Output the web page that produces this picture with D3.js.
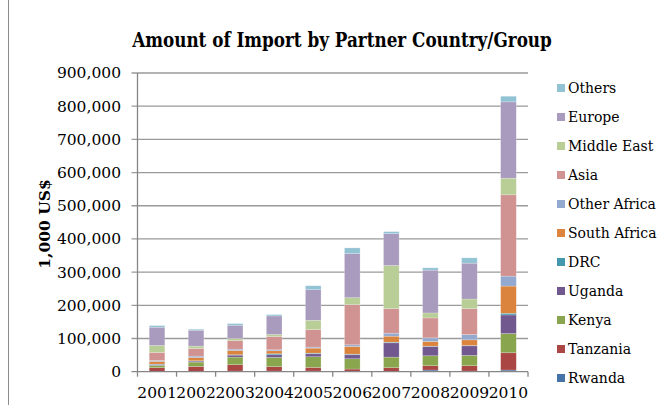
<!DOCTYPE html>
<html>
<head>
<meta charset="utf-8">
<script src="https://cdn.jsdelivr.net/npm/d3@7/dist/d3.min.js"></script>
<style>
  html, body { margin: 0; padding: 0; background: #fff; }
  svg { display: block; }
  text { font-family: "DejaVu Serif", "Liberation Serif", serif; fill: #000; }
</style>
</head>
<body>
<svg id="chart" width="662" height="405"></svg>
<script>
// Import amounts, 1,000 US$, by partner (stacked bottom to top)
const years = ["2001", "2002", "2003", "2004", "2005", "2006", "2007", "2008", "2009", "2010"];
const seriesNames = ["Rwanda", "Tanzania", "Kenya", "Uganda", "DRC", "South Africa",
                     "Other Africa", "Asia", "Middle East", "Europe", "Others"];

const rwanda      = [1000, 1000, 2000, 2000, 2000, 1000, 1000, 5000, 2000, 5000];
const tanzania    = [11000, 15000, 19000, 13000, 11000, 7000, 11000, 13000, 16000, 52000];
const kenya       = [7000, 13000, 23000, 28000, 32000, 31000, 32000, 30000, 31000, 58000];
const uganda      = [3000, 3000, 6000, 8000, 9000, 12000, 43000, 28000, 29000, 56000];
const drc         = [1000, 1000, 1000, 3000, 2000, 2000, 2000, 1000, 1000, 5000];
const southAfrica = [8000, 10000, 13000, 9000, 15000, 23000, 18000, 14000, 17000, 82000];
const otherAfrica = [3000, 4000, 4000, 3000, 3000, 5000, 9000, 11000, 16000, 30000];
const asia        = [24000, 23000, 26000, 40000, 53000, 121000, 74000, 60000, 78000, 245000];
const middleEast  = [21000, 7000, 6000, 6000, 28000, 21000, 130000, 15000, 29000, 50000];
const europe      = [55000, 48000, 40000, 56000, 92000, 133000, 96000, 129000, 108000, 230000];
const others      = [5000, 3000, 5000, 4000, 12000, 17000, 6000, 7000, 16000, 17000];

const yTicks = [0, 100000, 200000, 300000, 400000, 500000, 600000, 700000, 800000, 900000];

const seriesValues = [rwanda, tanzania, kenya, uganda, drc, southAfrica,
                      otherAfrica, asia, middleEast, europe, others];
const colors = ["#4572A7", "#AA4643", "#89A54E", "#71588F", "#4198AF", "#DB843D",
                "#93A9CF", "#D19392", "#B9CD96", "#A99BBD", "#92C3D5"];

// rows for d3.stack
const rows = years.map((yr, i) => {
  const r = { year: yr };
  seriesNames.forEach((s, k) => { r[s] = seriesValues[k][i]; });
  return r;
});

const svg = d3.select("#chart");

// outer chart frame (left edge)
svg.append("line")
  .attr("x1", 8.5).attr("x2", 8.5).attr("y1", 0).attr("y2", 405)
  .attr("stroke", "#8c8c8c").attr("stroke-width", 1);

const plot = { left: 137.5, right: 528, top: 73, bottom: 371.7 };

const x = d3.scaleBand()
  .domain(years)
  .range([plot.left, plot.right])
  .paddingInner(0.6)
  .paddingOuter(0.3);

const y = d3.scaleLinear()
  .domain([0, 900000])
  .range([plot.bottom, plot.top]);

// gridlines with left tick extensions
svg.append("g")
  .selectAll("line")
  .data(yTicks.slice(1))
  .join("line")
  .attr("x1", plot.left - 6).attr("x2", plot.right)
  .attr("y1", d => y(d)).attr("y2", d => y(d))
  .attr("stroke", "#9a9a9a").attr("stroke-width", 1.3);

// y tick labels
svg.append("g")
  .selectAll("text")
  .data(yTicks)
  .join("text")
  .attr("x", 121)
  .attr("y", d => y(d))
  .attr("dy", "0.35em")
  .attr("text-anchor", "end")
  .attr("font-size", 15.5)
  .text(d => d3.format(",")(d));

// stacked bars
const stack = d3.stack().keys(seriesNames);
const layers = stack(rows);

svg.append("g")
  .selectAll("g")
  .data(layers)
  .join("g")
  .attr("fill", (d, i) => colors[i])
  .selectAll("rect")
  .data(d => d)
  .join("rect")
  .attr("x", d => x(d.data.year))
  .attr("width", x.bandwidth())
  .attr("y", d => y(d[1]))
  .attr("height", d => Math.max(0, y(d[0]) - y(d[1])))
  .attr("stroke", "rgba(255,255,255,0.35)")
  .attr("stroke-width", 0.6);

// axes lines
svg.append("line")
  .attr("x1", plot.left).attr("x2", plot.left)
  .attr("y1", plot.top).attr("y2", plot.bottom)
  .attr("stroke", "#868686").attr("stroke-width", 1.3);
svg.append("line")
  .attr("x1", plot.left - 6).attr("x2", plot.right)
  .attr("y1", plot.bottom).attr("y2", plot.bottom)
  .attr("stroke", "#868686").attr("stroke-width", 1.3);

// category boundary ticks below the axis
const step = x.step();
const boundaries = d3.range(years.length + 1).map(i => plot.left + i * step);
svg.append("g")
  .selectAll("line")
  .data(boundaries)
  .join("line")
  .attr("x1", d => d).attr("x2", d => d)
  .attr("y1", plot.bottom).attr("y2", plot.bottom + 5)
  .attr("stroke", "#868686").attr("stroke-width", 1.3);

// x labels
svg.append("g")
  .selectAll("text")
  .data(years)
  .join("text")
  .attr("x", d => x(d) + x.bandwidth() / 2)
  .attr("y", 398)
  .attr("text-anchor", "middle")
  .attr("font-size", 15.5)
  .text(d => d);

// title, set in a condensed serif
svg.append("text")
  .attr("transform", "translate(342,47) scale(0.8,1)")
  .attr("text-anchor", "middle")
  .attr("font-family", "Liberation Serif, serif")
  .attr("font-weight", "bold")
  .attr("font-size", 21)
  .text("Amount of Import by Partner Country/Group");

// y axis title
svg.append("text")
  .attr("transform", "translate(50,224) rotate(-90)")
  .attr("text-anchor", "middle")
  .attr("font-family", "Liberation Serif, serif")
  .attr("font-weight", "bold")
  .attr("font-size", 15.5)
  .text("1,000 US$");

// legend, top entry is the topmost series
const legendOrder = seriesNames.map((s, i) => ({ name: s, color: colors[i] })).reverse();
const legend = svg.append("g")
  .selectAll("g")
  .data(legendOrder)
  .join("g")
  .attr("transform", (d, i) => `translate(557, ${88 + i * 29})`);
legend.append("rect")
  .attr("x", 0).attr("y", -4).attr("width", 8).attr("height", 8)
  .attr("fill", d => d.color);
legend.append("text")
  .attr("x", 11)
  .attr("y", 0)
  .attr("dy", "0.35em")
  .attr("font-size", 14)
  .text(d => d.name);
</script>
</body>
</html>
